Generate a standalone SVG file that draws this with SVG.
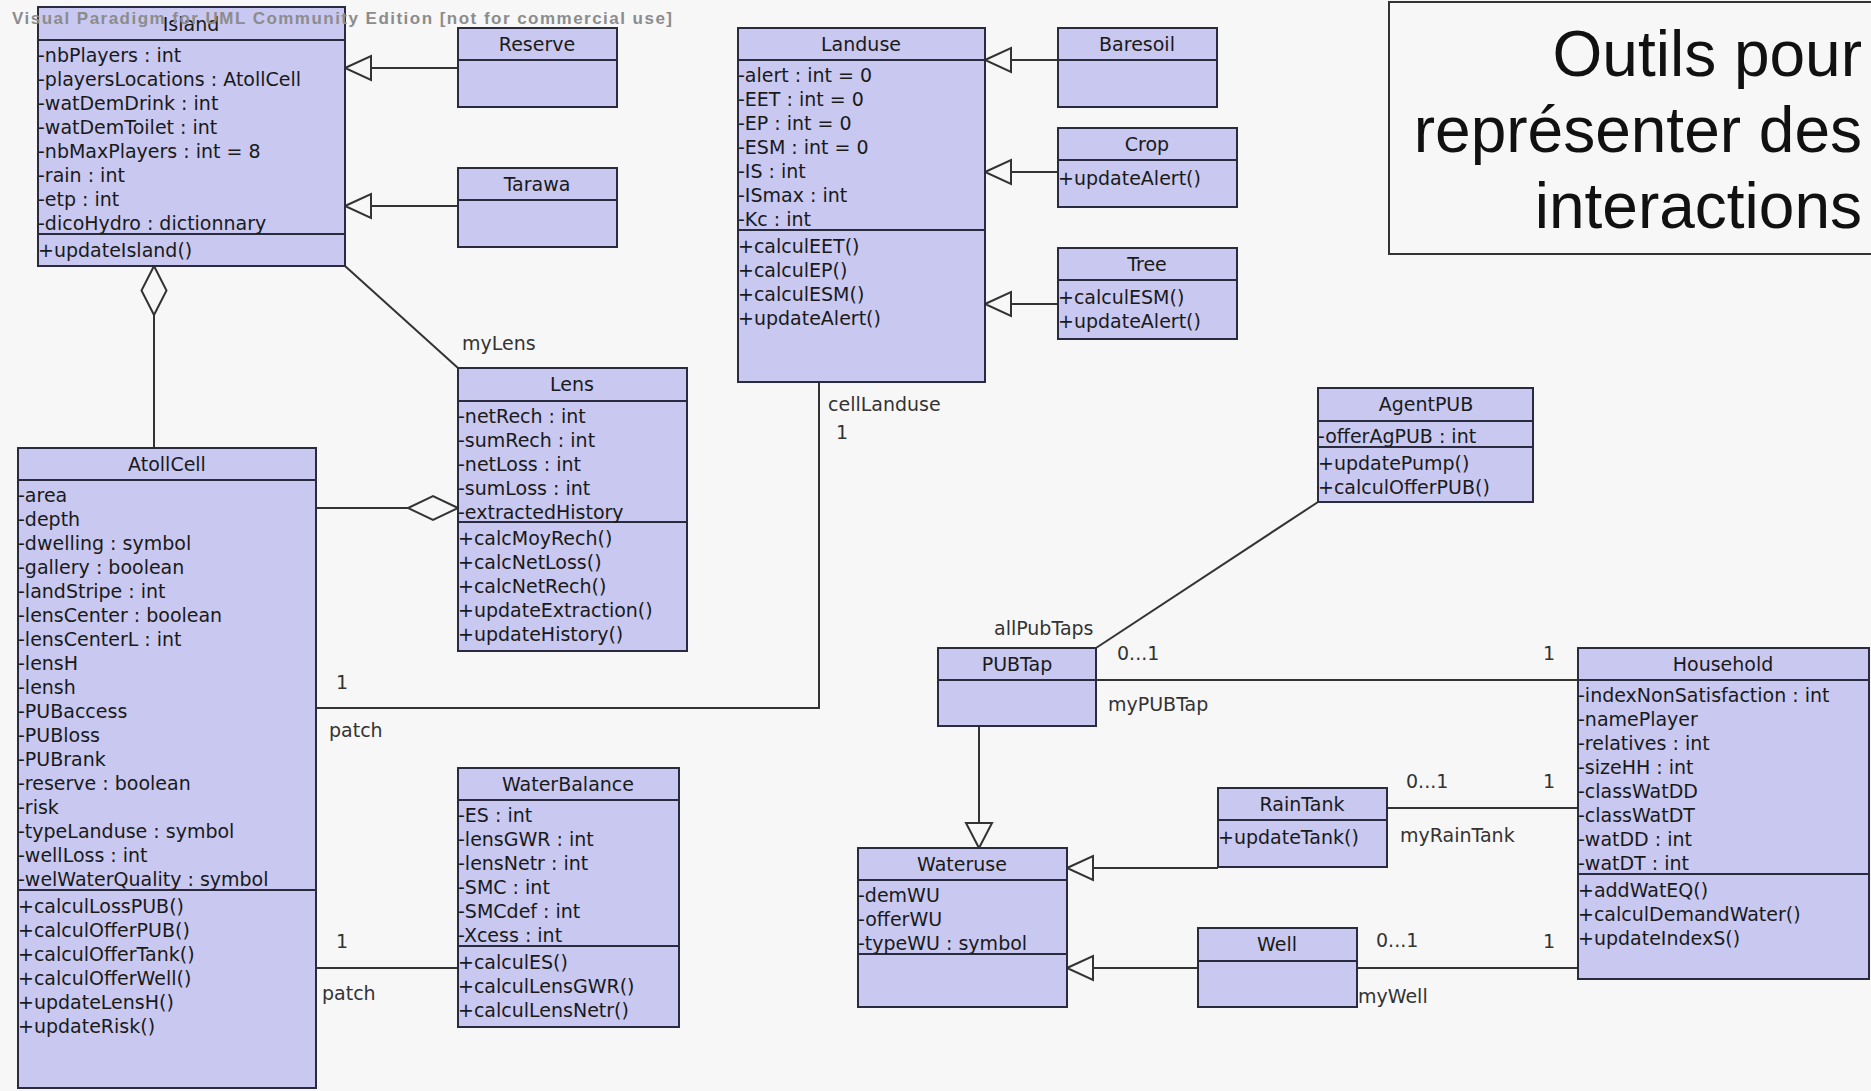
<svg xmlns="http://www.w3.org/2000/svg" width="1871" height="1091" viewBox="0 0 1871 1091">
<style>
.bg{fill:#f7f7f7}
.box{fill:#c8c8f0;stroke:#2b2b3f;stroke-width:2}
.dv{stroke:#2b2b3f;stroke-width:2}
.t{font-family:"DejaVu Sans","Liberation Sans",Arial,sans-serif;font-size:19px;fill:#1a1a1a}
.c{text-anchor:middle}
.lbl{font-family:"DejaVu Sans","Liberation Sans",Arial,sans-serif;font-size:19px;fill:#333}
.ln{stroke:#333;stroke-width:2;fill:none}
.hd{fill:#f7f7f7;stroke:#333;stroke-width:2}
.title{font-family:"Liberation Sans",Arial,sans-serif;font-size:64px;fill:#111;text-anchor:end}
.wm{font-family:"Liberation Sans",Arial,sans-serif;font-size:17px;font-weight:bold;fill:#8c8c8c}
</style>
<rect class="bg" x="0" y="0" width="1871" height="1091"/>

<g id="connectors">
  <!-- Reserve -> Island -->
  <line class="ln" x1="458" y1="68" x2="371" y2="68"/>
  <polygon class="hd" points="345,68 371,56 371,80"/>
  <!-- Tarawa -> Island -->
  <line class="ln" x1="458" y1="206" x2="371" y2="206"/>
  <polygon class="hd" points="345,206 371,194 371,218"/>
  <!-- Island <>- AtollCell -->
  <line class="ln" x1="154" y1="315" x2="154" y2="448"/>
  <polygon class="hd" points="154,266 141.5,290.5 154,315 166.5,290.5"/>
  <!-- Island - Lens -->
  <line class="ln" x1="345" y1="266" x2="458" y2="368"/>
  <text class="lbl" x="462" y="350">myLens</text>
  <!-- AtollCell - Lens aggregation -->
  <line class="ln" x1="316" y1="508" x2="408" y2="508"/>
  <polygon class="hd" points="458,508 433,496 408,508 433,520"/>
  <!-- AtollCell - Landuse -->
  <polyline class="ln" points="316,708 819,708 819,382"/>
  <text class="lbl" x="336" y="689">1</text>
  <text class="lbl" x="329" y="737">patch</text>
  <text class="lbl" x="828" y="411">cellLanduse</text>
  <text class="lbl" x="836" y="439">1</text>
  <!-- AtollCell - WaterBalance -->
  <line class="ln" x1="316" y1="968" x2="458" y2="968"/>
  <text class="lbl" x="336" y="948">1</text>
  <text class="lbl" x="322" y="1000">patch</text>
  <!-- Baresoil/Crop/Tree -> Landuse -->
  <line class="ln" x1="1058" y1="60" x2="1011" y2="60"/>
  <polygon class="hd" points="985,60 1011,48 1011,72"/>
  <line class="ln" x1="1058" y1="172" x2="1011" y2="172"/>
  <polygon class="hd" points="985,172 1011,160 1011,184"/>
  <line class="ln" x1="1058" y1="304" x2="1011" y2="304"/>
  <polygon class="hd" points="985,304 1011,292 1011,316"/>
  <!-- AgentPUB - PUBTap -->
  <line class="ln" x1="1318" y1="502" x2="1096" y2="648"/>
  <text class="lbl" x="994" y="635">allPubTaps</text>
  <text class="lbl" x="1117" y="660">0...1</text>
  <!-- PUBTap - Household -->
  <line class="ln" x1="1096" y1="680" x2="1578" y2="680"/>
  <text class="lbl" x="1108" y="711">myPUBTap</text>
  <text class="lbl" x="1543" y="660">1</text>
  <!-- PUBTap -> Wateruse -->
  <line class="ln" x1="979" y1="726" x2="979" y2="823"/>
  <polygon class="hd" points="979,848 966,823 992,823"/>
  <!-- RainTank -> Wateruse -->
  <line class="ln" x1="1218" y1="868" x2="1093" y2="868"/>
  <polygon class="hd" points="1067,868 1093,856 1093,880"/>
  <!-- Well -> Wateruse -->
  <line class="ln" x1="1198" y1="968" x2="1093" y2="968"/>
  <polygon class="hd" points="1067,968 1093,956 1093,980"/>
  <!-- RainTank - Household -->
  <line class="ln" x1="1387" y1="808" x2="1578" y2="808"/>
  <text class="lbl" x="1406" y="788">0...1</text>
  <text class="lbl" x="1543" y="788">1</text>
  <text class="lbl" x="1400" y="842">myRainTank</text>
  <!-- Well - Household -->
  <line class="ln" x1="1357" y1="968" x2="1578" y2="968"/>
  <text class="lbl" x="1376" y="947">0...1</text>
  <text class="lbl" x="1543" y="948">1</text>
  <text class="lbl" x="1358" y="1003">myWell</text>
</g>

<g id="Island">
  <rect class="box" x="38" y="7" width="307" height="259"/>
  <line class="dv" x1="38" y1="40" x2="345" y2="40"/>
  <line class="dv" x1="38" y1="234" x2="345" y2="234"/>
  <text class="t c" x="191" y="31">Island</text>
  <text class="t" x="38" y="62">-nbPlayers : int</text>
  <text class="t" x="38" y="86">-playersLocations : AtollCell</text>
  <text class="t" x="38" y="110">-watDemDrink : int</text>
  <text class="t" x="38" y="134">-watDemToilet : int</text>
  <text class="t" x="38" y="158">-nbMaxPlayers : int = 8</text>
  <text class="t" x="38" y="182">-rain : int</text>
  <text class="t" x="38" y="206">-etp : int</text>
  <text class="t" x="38" y="230">-dicoHydro : dictionnary</text>
  <text class="t" x="38" y="257">+updateIsland()</text>
</g>

<g id="Reserve">
  <rect class="box" x="458" y="28" width="159" height="79"/>
  <line class="dv" x1="458" y1="60" x2="617" y2="60"/>
  <text class="t c" x="537" y="51">Reserve</text>
</g>

<g id="Tarawa">
  <rect class="box" x="458" y="168" width="159" height="79"/>
  <line class="dv" x1="458" y1="200" x2="617" y2="200"/>
  <text class="t c" x="537" y="191">Tarawa</text>
</g>

<g id="Landuse">
  <rect class="box" x="738" y="28" width="247" height="354"/>
  <line class="dv" x1="738" y1="60" x2="985" y2="60"/>
  <line class="dv" x1="738" y1="230" x2="985" y2="230"/>
  <text class="t c" x="861" y="51">Landuse</text>
  <text class="t" x="738" y="82">-alert : int = 0</text>
  <text class="t" x="738" y="106">-EET : int = 0</text>
  <text class="t" x="738" y="130">-EP : int = 0</text>
  <text class="t" x="738" y="154">-ESM : int = 0</text>
  <text class="t" x="738" y="178">-IS : int</text>
  <text class="t" x="738" y="202">-ISmax : int</text>
  <text class="t" x="738" y="226">-Kc : int</text>
  <text class="t" x="738" y="253">+calculEET()</text>
  <text class="t" x="738" y="277">+calculEP()</text>
  <text class="t" x="738" y="301">+calculESM()</text>
  <text class="t" x="738" y="325">+updateAlert()</text>
</g>

<g id="Baresoil">
  <rect class="box" x="1058" y="28" width="159" height="79"/>
  <line class="dv" x1="1058" y1="60" x2="1217" y2="60"/>
  <text class="t c" x="1137" y="51">Baresoil</text>
</g>

<g id="Crop">
  <rect class="box" x="1058" y="128" width="179" height="79"/>
  <line class="dv" x1="1058" y1="160" x2="1237" y2="160"/>
  <text class="t c" x="1147" y="151">Crop</text>
  <text class="t" x="1058" y="185">+updateAlert()</text>
</g>

<g id="Tree">
  <rect class="box" x="1058" y="248" width="179" height="91"/>
  <line class="dv" x1="1058" y1="280" x2="1237" y2="280"/>
  <text class="t c" x="1147" y="271">Tree</text>
  <text class="t" x="1058" y="304">+calculESM()</text>
  <text class="t" x="1058" y="328">+updateAlert()</text>
</g>

<g id="Lens">
  <rect class="box" x="458" y="368" width="229" height="283"/>
  <line class="dv" x1="458" y1="401" x2="687" y2="401"/>
  <line class="dv" x1="458" y1="522" x2="687" y2="522"/>
  <text class="t c" x="572" y="391">Lens</text>
  <text class="t" x="458" y="423">-netRech : int</text>
  <text class="t" x="458" y="447">-sumRech : int</text>
  <text class="t" x="458" y="471">-netLoss : int</text>
  <text class="t" x="458" y="495">-sumLoss : int</text>
  <text class="t" x="458" y="519">-extractedHistory</text>
  <text class="t" x="458" y="545">+calcMoyRech()</text>
  <text class="t" x="458" y="569">+calcNetLoss()</text>
  <text class="t" x="458" y="593">+calcNetRech()</text>
  <text class="t" x="458" y="617">+updateExtraction()</text>
  <text class="t" x="458" y="641">+updateHistory()</text>
</g>

<g id="AtollCell">
  <rect class="box" x="18" y="448" width="298" height="640"/>
  <line class="dv" x1="18" y1="480" x2="316" y2="480"/>
  <line class="dv" x1="18" y1="890" x2="316" y2="890"/>
  <text class="t c" x="167" y="471">AtollCell</text>
  <text class="t" x="18" y="502">-area</text>
  <text class="t" x="18" y="526">-depth</text>
  <text class="t" x="18" y="550">-dwelling : symbol</text>
  <text class="t" x="18" y="574">-gallery : boolean</text>
  <text class="t" x="18" y="598">-landStripe : int</text>
  <text class="t" x="18" y="622">-lensCenter : boolean</text>
  <text class="t" x="18" y="646">-lensCenterL : int</text>
  <text class="t" x="18" y="670">-lensH</text>
  <text class="t" x="18" y="694">-lensh</text>
  <text class="t" x="18" y="718">-PUBaccess</text>
  <text class="t" x="18" y="742">-PUBloss</text>
  <text class="t" x="18" y="766">-PUBrank</text>
  <text class="t" x="18" y="790">-reserve : boolean</text>
  <text class="t" x="18" y="814">-risk</text>
  <text class="t" x="18" y="838">-typeLanduse : symbol</text>
  <text class="t" x="18" y="862">-wellLoss : int</text>
  <text class="t" x="18" y="886">-welWaterQuality : symbol</text>
  <text class="t" x="18" y="913">+calculLossPUB()</text>
  <text class="t" x="18" y="937">+calculOfferPUB()</text>
  <text class="t" x="18" y="961">+calculOfferTank()</text>
  <text class="t" x="18" y="985">+calculOfferWell()</text>
  <text class="t" x="18" y="1009">+updateLensH()</text>
  <text class="t" x="18" y="1033">+updateRisk()</text>
</g>

<g id="WaterBalance">
  <rect class="box" x="458" y="768" width="221" height="259"/>
  <line class="dv" x1="458" y1="800" x2="679" y2="800"/>
  <line class="dv" x1="458" y1="946" x2="679" y2="946"/>
  <text class="t c" x="568" y="791">WaterBalance</text>
  <text class="t" x="458" y="822">-ES : int</text>
  <text class="t" x="458" y="846">-lensGWR : int</text>
  <text class="t" x="458" y="870">-lensNetr : int</text>
  <text class="t" x="458" y="894">-SMC : int</text>
  <text class="t" x="458" y="918">-SMCdef : int</text>
  <text class="t" x="458" y="942">-Xcess : int</text>
  <text class="t" x="458" y="969">+calculES()</text>
  <text class="t" x="458" y="993">+calculLensGWR()</text>
  <text class="t" x="458" y="1017">+calculLensNetr()</text>
</g>

<g id="AgentPUB">
  <rect class="box" x="1318" y="388" width="215" height="114"/>
  <line class="dv" x1="1318" y1="421" x2="1533" y2="421"/>
  <line class="dv" x1="1318" y1="447" x2="1533" y2="447"/>
  <text class="t c" x="1426" y="411">AgentPUB</text>
  <text class="t" x="1318" y="443">-offerAgPUB : int</text>
  <text class="t" x="1318" y="470">+updatePump()</text>
  <text class="t" x="1318" y="494">+calculOfferPUB()</text>
</g>

<g id="PUBTap">
  <rect class="box" x="938" y="648" width="158" height="78"/>
  <line class="dv" x1="938" y1="680" x2="1096" y2="680"/>
  <text class="t c" x="1017" y="671">PUBTap</text>
</g>

<g id="Household">
  <rect class="box" x="1578" y="648" width="291" height="331"/>
  <line class="dv" x1="1578" y1="680" x2="1869" y2="680"/>
  <line class="dv" x1="1578" y1="874" x2="1869" y2="874"/>
  <text class="t c" x="1723" y="671">Household</text>
  <text class="t" x="1578" y="702">-indexNonSatisfaction : int</text>
  <text class="t" x="1578" y="726">-namePlayer</text>
  <text class="t" x="1578" y="750">-relatives : int</text>
  <text class="t" x="1578" y="774">-sizeHH : int</text>
  <text class="t" x="1578" y="798">-classWatDD</text>
  <text class="t" x="1578" y="822">-classWatDT</text>
  <text class="t" x="1578" y="846">-watDD : int</text>
  <text class="t" x="1578" y="870">-watDT : int</text>
  <text class="t" x="1578" y="897">+addWatEQ()</text>
  <text class="t" x="1578" y="921">+calculDemandWater()</text>
  <text class="t" x="1578" y="945">+updateIndexS()</text>
</g>

<g id="RainTank">
  <rect class="box" x="1218" y="788" width="169" height="79"/>
  <line class="dv" x1="1218" y1="820" x2="1387" y2="820"/>
  <text class="t c" x="1302" y="811">RainTank</text>
  <text class="t" x="1218" y="844">+updateTank()</text>
</g>

<g id="Wateruse">
  <rect class="box" x="858" y="848" width="209" height="159"/>
  <line class="dv" x1="858" y1="880" x2="1067" y2="880"/>
  <line class="dv" x1="858" y1="954" x2="1067" y2="954"/>
  <text class="t c" x="962" y="871">Wateruse</text>
  <text class="t" x="858" y="902">-demWU</text>
  <text class="t" x="858" y="926">-offerWU</text>
  <text class="t" x="858" y="950">-typeWU : symbol</text>
</g>

<g id="Well">
  <rect class="box" x="1198" y="928" width="159" height="79"/>
  <line class="dv" x1="1198" y1="961" x2="1357" y2="961"/>
  <text class="t c" x="1277" y="951">Well</text>
</g>

<g id="TitleBox">
  <rect x="1389" y="2" width="500" height="252" fill="none" stroke="#333" stroke-width="2"/>
  <text class="title" x="1862" y="76">Outils pour</text>
  <text class="title" x="1862" y="152">représenter des</text>
  <text class="title" x="1862" y="228">interactions</text>
</g>

<text class="wm" x="12" y="24" textLength="660" lengthAdjust="spacing">Visual Paradigm for UML Community Edition [not for commercial use]</text>
</svg>
